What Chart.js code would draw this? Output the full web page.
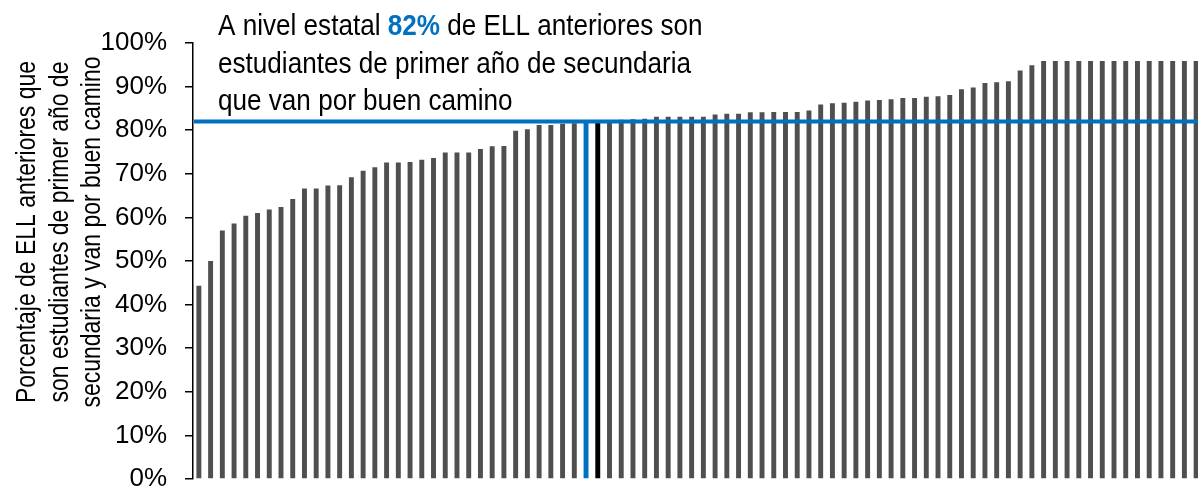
<!DOCTYPE html>
<html>
<head>
<meta charset="utf-8">
<script src="https://cdn.jsdelivr.net/npm/chart.js@4"></script>
<style>
  html, body { margin: 0; padding: 0; background: #fff; overflow: hidden; }
  #chart-ell { display: block; }
</style>
</head>
<body>
<canvas id="chart-ell" width="1202" height="495"></canvas>
<script>
/**
 * Gráfico de ELL anteriores — Chart.js
 */

// porcentaje por escuela, ordenado de menor a mayor
const VALORES = [
    44.3, 50.0, 57.0, 58.6, 60.4, 61.0, 61.8, 62.4, 64.2, 66.6,
    66.6, 67.3, 67.4, 69.2, 70.7, 71.5, 72.6, 72.6, 72.7, 73.2,
    73.6, 74.9, 74.9, 74.9, 75.7, 76.3, 76.4, 79.9, 80.2, 81.2,
    81.2, 81.5, 81.6, 82.0, 81.9, 82.2, 82.4, 82.5, 82.6, 83.1,
    83.1, 83.1, 83.1, 83.1, 83.6, 83.8, 83.8, 84.1, 84.1, 84.2,
    84.2, 84.2, 84.5, 85.9, 86.2, 86.3, 86.5, 86.8, 86.9, 87.1,
    87.4, 87.4, 87.7, 87.8, 88.1, 89.4, 89.8, 90.8, 91.0, 91.2,
    93.7, 94.9, 95.9, 95.9, 95.9, 95.9, 95.9, 95.9, 95.9, 95.9,
    95.9, 95.9, 95.9, 95.9, 95.9, 95.9,
];
const ETIQUETAS = VALORES.map((v, i) => "Escuela " + (i + 1));
const PROMEDIO_ESTATAL = 82;
const IDX_ESTATAL = 33;   // barra azul (nivel estatal)
const IDX_DESTACADA = 34; // barra negra
const TICKS_Y = [0, 10, 20, 30, 40, 50, 60, 70, 80, 90, 100];

const TITULO = [
    [{ t: "A nivel estatal " }, { t: "82%", color: "#0070C0", bold: true }, { t: " de ELL anteriores son" }],
    [{ t: "estudiantes de primer año de secundaria" }],
    [{ t: "que van por buen camino" }],
];
const TITULO_EJE_Y = [
    "Porcentaje de ELL anteriores que",
    "son estudiantes de primer año de",
    "secundaria y van por buen camino",
];

const AZUL = "#0070C0";
const GRIS = "#4F4F4F";
const FUENTE = '"Liberation Sans", Arial, sans-serif';
const ESTRECHO_TITULO = 0.87; // simula Arial Narrow
const ESTRECHO_EJE = 0.82;

let chartEll = null;

function colorBarra(i) {
    if (i === IDX_ESTATAL) return AZUL;
    if (i === IDX_DESTACADA) return "#000000";
    return GRIS;
}

// texto angosto, en partes con color/negrita
function textoAngosto(ctx, partes, x, y, size) {
    ctx.save();
    ctx.translate(x, y);
    ctx.scale(ESTRECHO_TITULO, 1);
    ctx.textBaseline = "alphabetic";
    ctx.textAlign = "left";
    let cx = 0;
    partes.forEach(p => {
        ctx.font = (p.bold ? "bold " : "") + size + "px " + FUENTE;
        ctx.fillStyle = p.color || "#000";
        ctx.fillText(p.t, cx, 0);
        cx += ctx.measureText(p.t).width;
    });
    ctx.restore();
}

const pluginTextos = {
    id: "textos",
    afterDatasetsDraw(chart) {
        const ctx = chart.ctx;
        const area = chart.chartArea;
        const y = chart.scales.y.getPixelForValue(PROMEDIO_ESTATAL);

        // línea del promedio estatal
        ctx.save();
        ctx.strokeStyle = AZUL;
        ctx.lineWidth = 4;
        ctx.beginPath();
        ctx.moveTo(area.left + 1, y);
        ctx.lineTo(chart.width, y);
        ctx.stroke();
        ctx.restore();
    },
    afterDraw(chart) {
        const ctx = chart.ctx;
        TITULO.forEach((linea, i) => textoAngosto(ctx, linea, 218, 35 + i * 37.5, 30));

        TITULO_EJE_Y.forEach((linea, i) => {
            ctx.save();
            ctx.translate(35 + i * 32.5, 232);
            ctx.rotate(-Math.PI / 2);
            ctx.scale(ESTRECHO_EJE, 1);
            ctx.font = "28px " + FUENTE;
            ctx.fillStyle = "#000";
            ctx.textAlign = "center";
            ctx.textBaseline = "alphabetic";
            ctx.fillText(linea, 0, 0);
            ctx.restore();
        });
    },
};

function crearChartEll() {
    const ctx = document.getElementById("chart-ell").getContext("2d");
    if (chartEll) chartEll.destroy();

    chartEll = new Chart(ctx, {
        type: "bar",
        data: {
            labels: ETIQUETAS,
            datasets: [{
                label: "Porcentaje",
                data: VALORES,
                backgroundColor: VALORES.map((v, i) => colorBarra(i)),
                barPercentage: 0.42,
                categoryPercentage: 1,
                borderSkipped: false,
            }],
        },
        options: {
            responsive: false,
            animation: false,
            devicePixelRatio: 1,
            layout: { padding: { top: 43, bottom: 16, left: 0, right: 0 } },
            plugins: {
                legend: { display: false },
                tooltip: { enabled: false },
            },
            scales: {
                x: { display: false },
                y: {
                    min: 0,
                    max: 100,
                    afterFit(scale) {
                        scale.width = 193;
                        scale.paddingTop = 0;
                        scale.paddingBottom = 0;
                    },
                    afterBuildTicks(scale) { scale.ticks = TICKS_Y.map(v => ({ value: v })); },
                    ticks: {
                        padding: 18,
                        color: "#000",
                        font: { family: FUENTE, size: 26 },
                        callback: v => v + "%",
                    },
                    grid: {
                        drawOnChartArea: false,
                        tickLength: 8,
                        color: "#000",
                        lineWidth: 1.5,
                    },
                    border: { color: "#000", width: 1.5 },
                },
            },
        },
        plugins: [pluginTextos],
    });
}

crearChartEll();
</script>
</body>
</html>
